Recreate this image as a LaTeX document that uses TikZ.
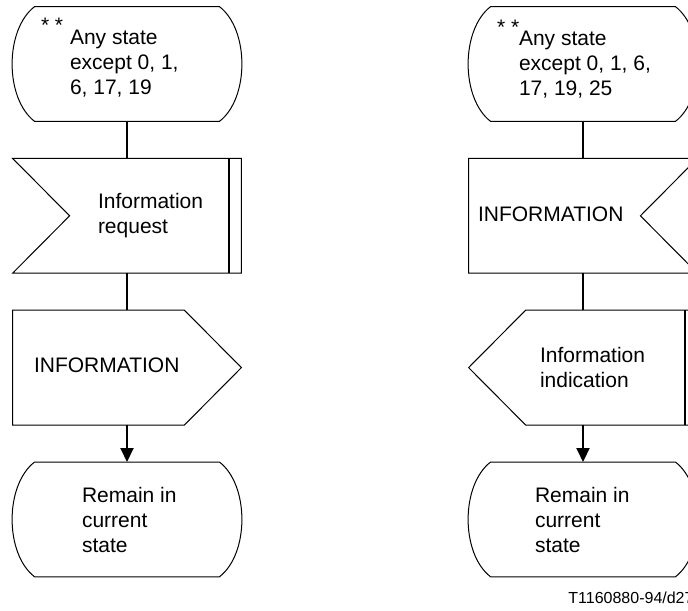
\documentclass[tikz,border=0pt]{standalone}
\usepackage{fontspec}
\setmainfont{Liberation Sans}
\usetikzlibrary{arrows.meta,calc,positioning}

\tikzset{
  box/.style={minimum width=114pt,minimum height=57pt,inner sep=0pt,draw=none},
  outline/.style={line width=0.5pt},
  link/.style={line width=1pt},
  txt/.style={anchor=base west,inner sep=0pt,align=left,font=\fontsize{10.5}{12.5}\selectfont},
}

% SDL symbols drawn round an empty box node
\newcommand{\statesym}[1]{%
  \draw[outline] ($(#1.north west)+(22,0)$) -- ($(#1.north east)+(-22,0)$)
    .. controls ($(#1.north east)+(8,23)$) and ($(#1.south east)+(8,-23)$) .. ($(#1.south east)+(-22,0)$)
    -- ($(#1.south west)+(22,0)$)
    .. controls ($(#1.south west)+(-8,-23)$) and ($(#1.north west)+(-8,23)$) .. cycle;}
\newcommand{\insym}[1]{%
  \draw[outline] (#1.north west) -- (#1.north east) -- (#1.south east) -- (#1.south west)
    -- ($(#1.west)+(57,0)$) -- cycle;
  \draw[link] ($(#1.north east)+(-12,0)$) -- ($(#1.south east)+(-12,0)$);}
\newcommand{\insymr}[1]{%
  \draw[outline] (#1.north west) -- (#1.north east) -- ($(#1.east)+(-57,0)$)
    -- (#1.south east) -- (#1.south west) -- cycle;}
\newcommand{\outsym}[1]{%
  \draw[outline] (#1.north west) -- ($(#1.north east)+(-57,0)$) -- (#1.east)
    -- ($(#1.south east)+(-57,0)$) -- (#1.south west) -- cycle;}
\newcommand{\outsymr}[1]{%
  \draw[outline] ($(#1.north west)+(57,0)$) -- (#1.north east) -- (#1.south east)
    -- ($(#1.south west)+(57,0)$) -- (#1.west) -- cycle;
  \draw[link] ($(#1.north east)+(-12,0)$) -- ($(#1.south east)+(-12,0)$);}

\begin{document}
\begin{tikzpicture}[x=0.5pt,y=-0.5pt,node distance=18.5pt]
\useasboundingbox (0,0) rectangle (688,610);
\clip (0,0) rectangle (688,610);

% left column
\node[box] (any1) at (127,64) {};
\node[box,below=of any1] (req) {};
\node[box,below=of req] (info1) {};
\node[box,below=of info1] (stay1) {};
\statesym{any1}
\insym{req}
\outsym{info1}
\statesym{stay1}
\node[txt] (star1) at ($(any1.north west)+(28,26)$) {* *};
\node[txt] (any1txt) at ($(any1.north west)+(57,88)$) {Any state\\except 0, 1,\\6, 17, 19};
\node[txt] (reqtxt) at ($(req.north west)+(85,75)$) {Information\\request};
\node[txt] (info1txt) at ($(info1.north west)+(21,62)$) {INFORMATION};
\node[txt] (stay1txt) at ($(stay1.north west)+(69,90)$) {Remain in\\current\\state};
\draw[link] (any1) -- (req);
\draw[link] (req) -- (info1);
\draw[link,-{Triangle[width=6.5pt,length=7pt]}] (info1) -- (stay1);

% right column
\node[box] (any2) at (583,64) {};
\node[box,below=of any2] (info2) {};
\node[box,below=of info2] (ind) {};
\node[box,below=of ind] (stay2) {};
\statesym{any2}
\insymr{info2}
\outsymr{ind}
\statesym{stay2}
\node[txt] (star2) at ($(any2.north west)+(28,28)$) {* *};
\node[txt] (any2txt) at ($(any2.north west)+(50,89)$) {Any state\\except 0, 1, 6,\\17, 19, 25};
\node[txt] (info2txt) at ($(info2.north west)+(9,63)$) {INFORMATION};
\node[txt] (indtxt) at ($(ind.north west)+(71,77)$) {Information\\indication};
\node[txt] (stay2txt) at ($(stay2.north west)+(66,90)$) {Remain in\\current\\state};
\draw[link] (any2) -- (info2);
\draw[link] (info2) -- (ind);
\draw[link,-{Triangle[width=6.5pt,length=7pt]}] (ind) -- (stay2);

\node[txt,font=\fontsize{8}{9.5}\selectfont] (figno) at (568,603) {T1160880-94/d27};
\end{tikzpicture}
\end{document}
